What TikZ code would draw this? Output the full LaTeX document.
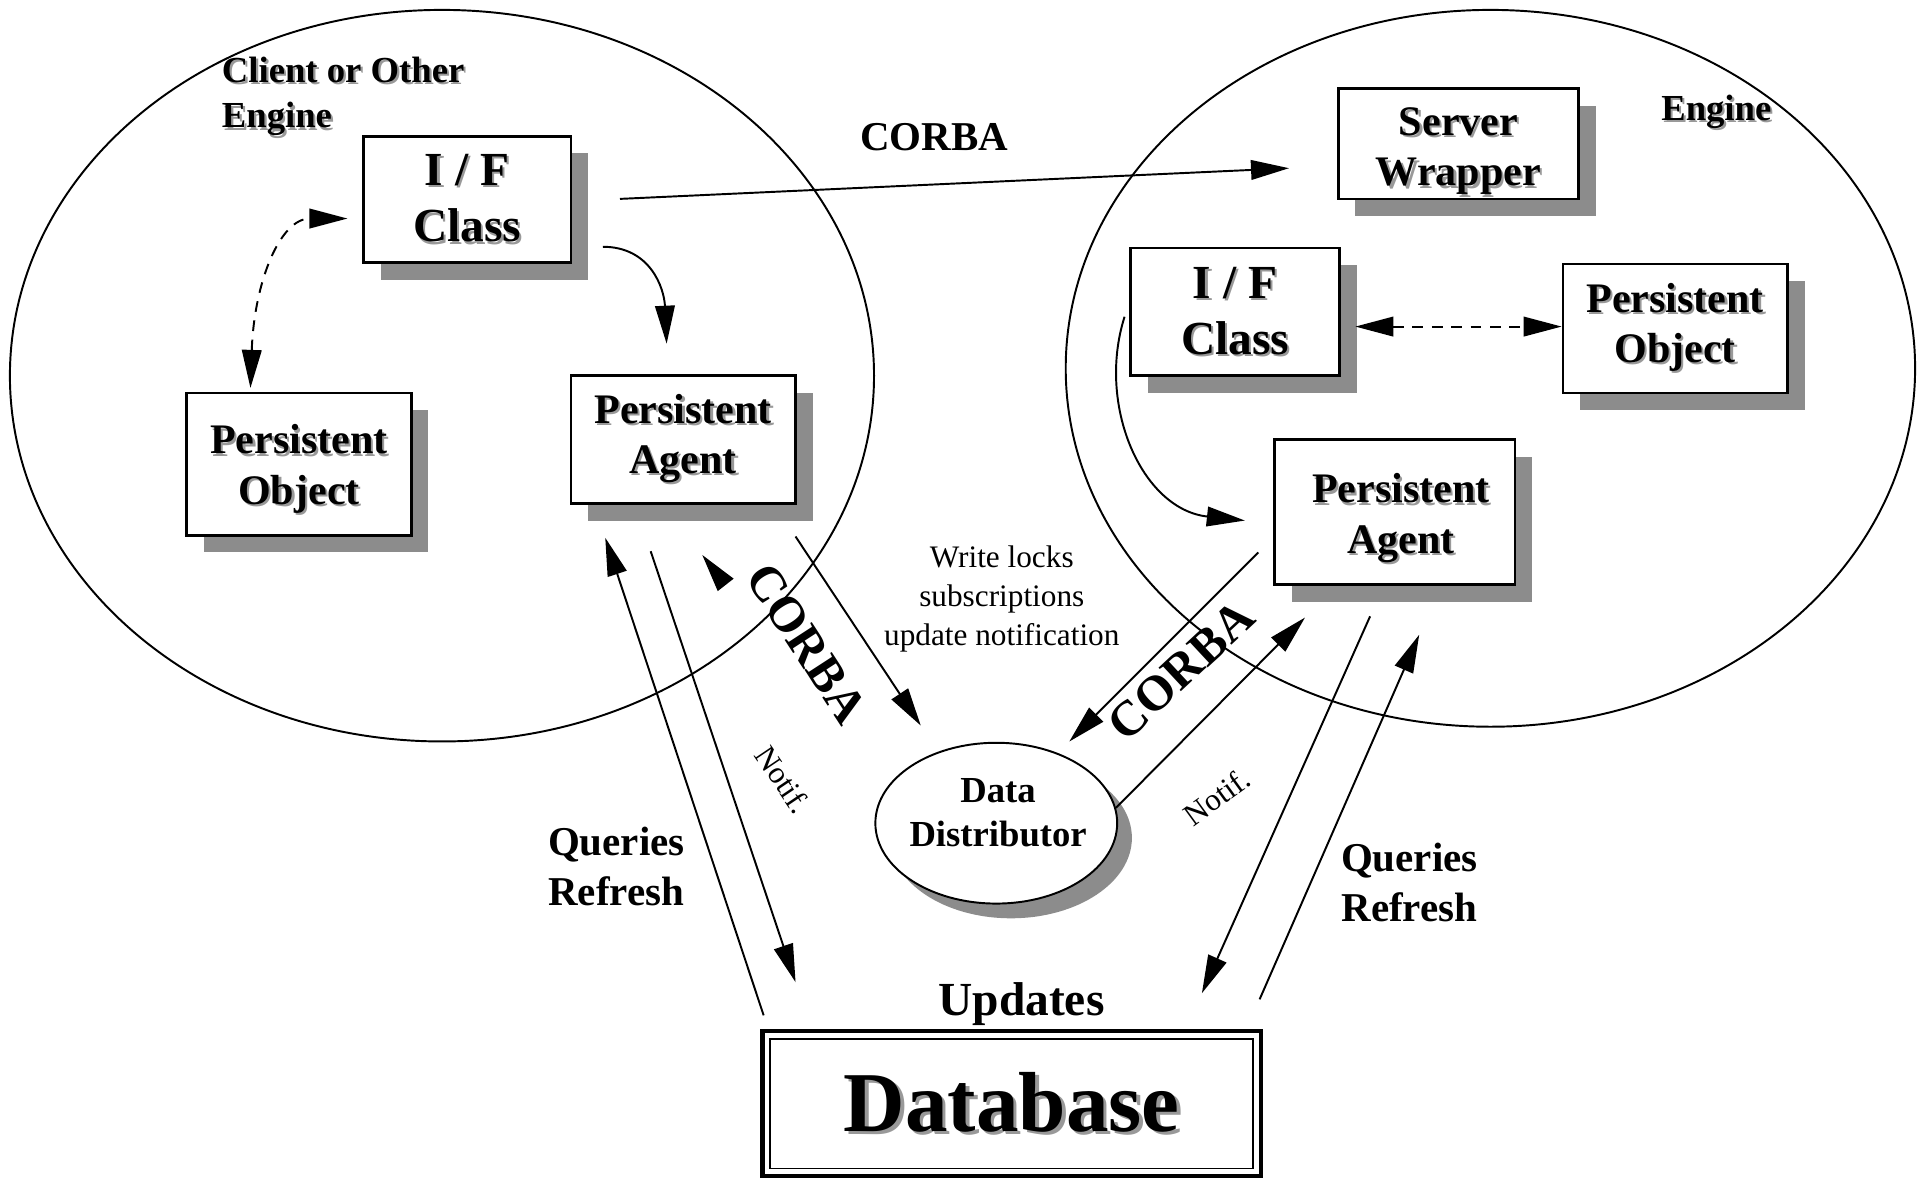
\documentclass[tikz,border=0pt]{standalone}
\usepackage{fontspec}
\setmainfont{Liberation Serif}
\usetikzlibrary{calc,shapes.geometric,shadows,arrows.meta}

\newcommand{\shd}[2][1pt]{\makebox[0pt][l]{\hspace{#1}\raisebox{-#1}{\color{black!40}#2}}#2}

\begin{document}
\begin{tikzpicture}[x=0.02cm, y=-0.02cm, line width=0.9pt, >={Triangle[length=0.62cm, width=0.32cm]}]
  \tikzstyle{bubble}=[draw, ellipse, inner sep=0pt]
  \tikzstyle{obj}=[draw, fill=white, line width=1.25pt, align=center, inner sep=0pt,
    font=\fontsize{19.5}{23.5}\selectfont\bfseries,
    drop shadow={shadow xshift=0.28cm, shadow yshift=-0.28cm, fill=black!45, opacity=1}]
  \tikzstyle{ifbox}=[font=\fontsize{22}{26}\selectfont\bfseries]
  \tikzstyle{objtxt}=[inner sep=0pt, align=center, font=\fontsize{19.5}{23.5}\selectfont\bfseries]
  \tikzstyle{annot}=[inner sep=0pt, align=left, font=\fontsize{17}{21}\selectfont\bfseries]
  \tikzstyle{lbl}=[inner sep=0pt, align=center, font=\fontsize{19}{23}\selectfont\bfseries]
  \tikzstyle{corba}=[inner sep=0pt, font=\fontsize{23}{27}\selectfont\bfseries]
  \tikzstyle{small}=[inner sep=0pt, align=center, font=\fontsize{14.5}{18}\selectfont]
  \tikzstyle{dashline}=[dash pattern=on 5pt off 4pt]

  \useasboundingbox (0,0) rectangle (1568,961);

  % engines
  \node[bubble, minimum width=14.08cm, minimum height=11.92cm] (client) at (360,306) {};
  \node[bubble, minimum width=13.84cm, minimum height=11.68cm] (engine) at (1214,300) {};
  \node[annot, anchor=west] (clientlbl) at (180,79.5) {\shd{Client or Other}\\\shd{Engine}};
  \node[annot] (enginelbl) at (1398,92) {\shd{Engine}};

  % left side
  \node[obj, ifbox, minimum width=3.38cm, minimum height=2.06cm] (lif) at (380.5,162.5) {\shd{I / F}\\\shd{Class}};
  \node[obj, minimum width=3.66cm, minimum height=2.32cm] (lpo) at (243.5,378) {};
  \node[objtxt] (lpotxt) at (243.5,383) {\shd{Persistent}\\\shd{Object}};
  \node[obj, minimum width=3.66cm, minimum height=2.08cm] (lpa) at (556.5,358) {\shd{Persistent}\\\shd{Agent}};

  % right side
  \node[obj, minimum width=3.92cm, minimum height=1.8cm] (sw) at (1188,117) {};
  \node[objtxt] (swtxt) at (1188,124) {\shd{Server}\\\shd{Wrapper}};
  \node[obj, ifbox, minimum width=3.4cm, minimum height=2.08cm] (rif) at (1006,254) {\shd{I / F}\\\shd{Class}};
  \node[obj, minimum width=3.66cm, minimum height=2.1cm] (rpo) at (1364.5,267.5) {\shd{Persistent}\\\shd{Object}};
  \node[obj, minimum width=3.92cm, minimum height=2.36cm] (rpa) at (1136,417) {};
  \node[objtxt] (rpatxt) at (1141,423) {\shd{Persistent}\\\shd{Agent}};

  \node[bubble, fill=white, minimum width=3.94cm, minimum height=2.62cm,
    drop shadow={shadow xshift=0.24cm, shadow yshift=-0.24cm, fill=black!45, opacity=1}] (dd) at (811.5,670.5) {};
  \node[inner sep=0pt, align=center, font=\fontsize{17}{20.4}\selectfont\bfseries] (ddtxt) at (813,662) {Data\\Distributor};

  \node[draw, line width=2pt, minimum width=8.12cm, minimum height=2.36cm,
    font=\fontsize{39.5}{47}\selectfont\bfseries] (db) at (824,899) {\shd[1.6pt]{Database}};
  \draw[line width=0.8pt] ($(db.north west)+(8,8)$) rectangle ($(db.south east)-(8,8)$);

  % labels
  \node[lbl] (corbatop) at (761,112) {CORBA};
  \node[small] (locks) at (816,488) {Write locks\\subscriptions\\update notification};
  \node[lbl] (qleft) at (502,706) {Queries\\Refresh};
  \node[lbl] (qright) at (1148,719) {Queries\\Refresh};
  \node[lbl, font=\fontsize{22}{26}\selectfont\bfseries] (upd) at (832,818) {Updates};
  \node[corba, rotate=-57] (corbal) at (657,524) {CORBA};
  \node[corba, rotate=43] (corbar) at (962,546) {CORBA};
  \node[small, rotate=-56] (notifl) at (638,635) {Notif.};
  \node[small, rotate=36] (notifr) at (991,649) {Notif.};

  % connector ends
  \coordinate (lif-out) at (505,162);
  \coordinate (sw-in) at (1050,137);
  \coordinate (lif-low) at (491,201);
  \coordinate (lpa-in) at (543,280);
  \coordinate (lpo-top) at (204,316);
  \coordinate (lif-left) at (283,178);
  \coordinate (rif-right) at (1104,266);
  \coordinate (rpo-left) at (1272,266);
  \coordinate (rif-low) at (916,258);
  \coordinate (rpa-in) at (1014,424);
  \coordinate (db-ql) at (622,827);
  \coordinate (lpa-q) at (493,438);
  \coordinate (lpa-n) at (530,449);
  \coordinate (db-nl) at (648,800);
  \coordinate (tip-a) at (590,475);
  \coordinate (tip-b) at (572,452);
  \coordinate (lpa-w) at (648,437);
  \coordinate (dd-w) at (750,591);
  \coordinate (rpa-w) at (1025,450);
  \coordinate (dd-e) at (871,604);
  \coordinate (dd-n) at (909,658);
  \coordinate (rpa-n) at (1063,503);
  \coordinate (rpa-d) at (1116,502);
  \coordinate (db-nr) at (979,809);
  \coordinate (db-qr) at (1026,814);
  \coordinate (rpa-q) at (1156,517);

  % connectors
  \draw[->] (lif-out) -- (sw-in);
  \draw[->] (lif-low) .. controls (530,201) and (541,235) .. (lpa-in);
  \draw[<->, dashline] (lpo-top) .. controls (207,230) and (228,178) .. (lif-left);
  \draw[<->, dashline] (rif-right) -- (rpo-left);
  \draw[->] (rif-low) .. controls (893,330) and (930,415) .. (rpa-in);
  \draw[->] (db-ql) -- (lpa-q);
  \draw[->] (lpa-n) -- (db-nl);
  \draw[->] (tip-a) -- (tip-b);
  \draw[->] (lpa-w) -- (dd-w);
  \draw[->] (rpa-w) -- (dd-e);
  \draw[->] (dd-n) -- (rpa-n);
  \draw[->] (rpa-d) -- (db-nr);
  \draw[->] (db-qr) -- (rpa-q);

\end{tikzpicture}
\end{document}
